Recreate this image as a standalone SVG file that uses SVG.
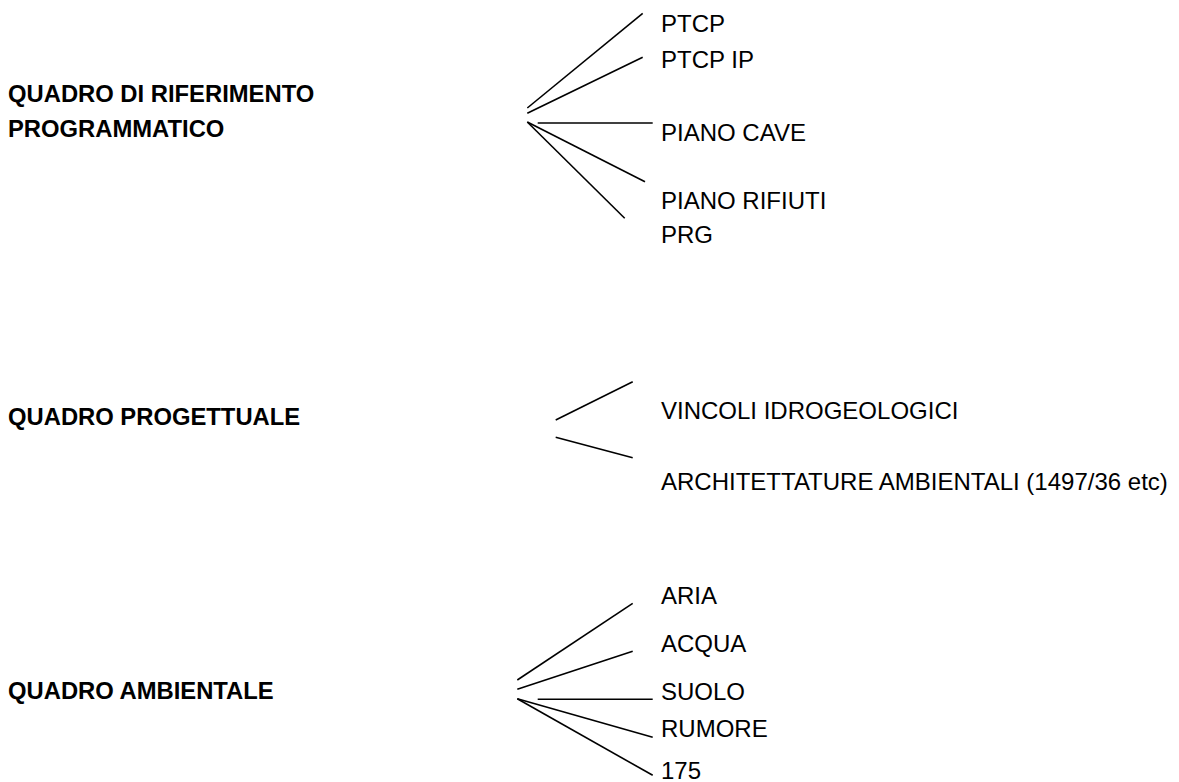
<svg xmlns="http://www.w3.org/2000/svg" width="1179" height="782" viewBox="0 0 1179 782">
<style>
.h{font-family:"Liberation Sans",Arial,sans-serif;font-weight:bold;font-size:23.8px;fill:#000}
.t{font-family:"Liberation Sans",Arial,sans-serif;font-size:24px;fill:#000}
.c line{stroke:#000;stroke-width:1.6;fill:none}
</style>
<rect width="1179" height="782" fill="#fff"/>
<g id="node-programmatico"><text class="h" x="8" y="102">QUADRO DI RIFERIMENTO</text><text class="h" x="8" y="137">PROGRAMMATICO</text></g>
<g id="node-progettuale"><text class="h" x="8" y="425">QUADRO PROGETTUALE</text></g>
<g id="node-ambientale"><text class="h" x="8" y="699">QUADRO AMBIENTALE</text></g>
<g id="node-ptcp"><text class="t" x="661" y="31.5">PTCP</text></g>
<g id="node-ptcpip"><text class="t" x="661" y="68">PTCP IP</text></g>
<g id="node-cave"><text class="t" x="661" y="141">PIANO CAVE</text></g>
<g id="node-rifiuti"><text class="t" x="661" y="209">PIANO RIFIUTI</text></g>
<g id="node-prg"><text class="t" x="661" y="243">PRG</text></g>
<g id="node-vincoli"><text class="t" x="661" y="419">VINCOLI IDROGEOLOGICI</text></g>
<g id="node-architetture"><text class="t" x="661" y="490">ARCHITETTATURE AMBIENTALI (1497/36 etc)</text></g>
<g id="node-aria"><text class="t" x="661" y="604">ARIA</text></g>
<g id="node-acqua"><text class="t" x="661" y="651.5">ACQUA</text></g>
<g id="node-suolo"><text class="t" x="661" y="699.5">SUOLO</text></g>
<g id="node-rumore"><text class="t" x="661" y="737">RUMORE</text></g>
<g id="node-175"><text class="t" x="661" y="779">175</text></g>
<g id="connectors" class="c">
<line x1="527.3" y1="108" x2="642.7" y2="13.3"/>
<line x1="527.3" y1="113.3" x2="642.7" y2="57.3"/>
<line x1="537.7" y1="123" x2="652.7" y2="123"/>
<line x1="527.3" y1="122" x2="645" y2="181.7"/>
<line x1="527.3" y1="122" x2="624.7" y2="218.3"/>
<line x1="555.7" y1="420" x2="632.7" y2="381.7"/>
<line x1="555.7" y1="437.3" x2="632.7" y2="457.7"/>
<line x1="517.3" y1="680" x2="632.7" y2="603.3"/>
<line x1="517.3" y1="689.3" x2="632.7" y2="651.3"/>
<line x1="537.7" y1="699.3" x2="652.7" y2="699.3"/>
<line x1="517.3" y1="698.7" x2="652.7" y2="737.3"/>
<line x1="517.3" y1="698.7" x2="652.7" y2="775.3"/>
</g>
</svg>
